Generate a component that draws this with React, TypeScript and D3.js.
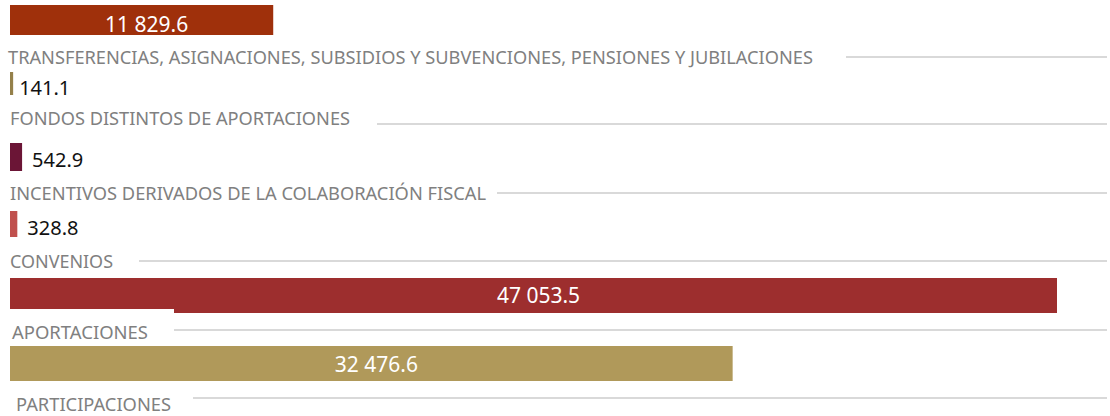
import React from "react";
import * as d3 from "d3";

// ---- data (top to bottom) ----
const categories = [
  "TRANSFERENCIAS, ASIGNACIONES, SUBSIDIOS Y SUBVENCIONES, PENSIONES Y JUBILACIONES",
  "FONDOS DISTINTOS DE APORTACIONES",
  "INCENTIVOS DERIVADOS DE LA COLABORACIÓN FISCAL",
  "CONVENIOS",
  "APORTACIONES",
  "PARTICIPACIONES",
];
const values = [11829.6, 141.1, 542.9, 328.8, 47053.5, 32476.6];

// ---- styles ----
const barColors = ["#9F300B", "#94804A", "#6B1536", "#C0504D", "#9D2E2E", "#B0995A"];

// ---- layout (per row) ----
const barTop = [5, 72, 143, 211, 278, 346];
const barH = [30, 23, 28, 26, 35, 35];
const labelX = [8, 10, 10, 10, 12, 16];
const labelBase = [64, 125, 200, 268, 339, 411];
const labelW = [805, 340, 476, 103, 136, 155];
const lineY = [57, 124, 193, 261, 330, 398];
const lineX0 = [846, 377, 497, 139, 174, 193];
const valueBase = [32, 95, 167, 235, 303, 372];

const W = 1110;
const H = 416;

const locale = d3.formatLocale({
  decimal: ".",
  thousands: " ",
  grouping: [3],
  currency: ["", ""],
});
const fmt = locale.format(",.1f");

export default function App() {
  const x = d3.scaleLinear().domain([0, 47053.5]).range([10, 1057]);
  const font = "'Noto Sans', 'Open Sans', sans-serif";
  return (
    <svg
      width={W}
      height={H}
      style={{ position: "absolute", left: 0, top: 0, background: "#fff" }}
      fontFamily={font}
    >
      {categories.map((c, i) => {
        const v = values[i];
        const x1 = x(v);
        const inside = x1 - x(0) > 100;
        return (
          <g key={c}>
            <rect x={x(0)} y={barTop[i]} width={x1 - x(0)} height={barH[i]} fill={barColors[i]} />
            {i === 4 && <rect x={8} y={309} width={166} height={36} fill="#fff" />}
            <line x1={lineX0[i]} x2={1107} y1={lineY[i]} y2={lineY[i]} stroke="#D9D9D9" strokeWidth={2} />
            <text
              x={labelX[i]}
              y={labelBase[i]}
              fontSize={18}
              fill="#808080"
              textLength={labelW[i]}
              lengthAdjust="spacingAndGlyphs"
            >
              {c}
            </text>
            {inside ? (
              <text
                x={(x(0) + x1) / 2 + 5}
                y={valueBase[i]}
                textAnchor="middle"
                fontSize={21}
                fill="#fff"
              >
                {fmt(v)}
              </text>
            ) : (
              <text x={x1 + (i === 1 ? 6 : 10)} y={valueBase[i]} fontSize={20} fill="#111">
                {fmt(v)}
              </text>
            )}
          </g>
        );
      })}
    </svg>
  );
}
